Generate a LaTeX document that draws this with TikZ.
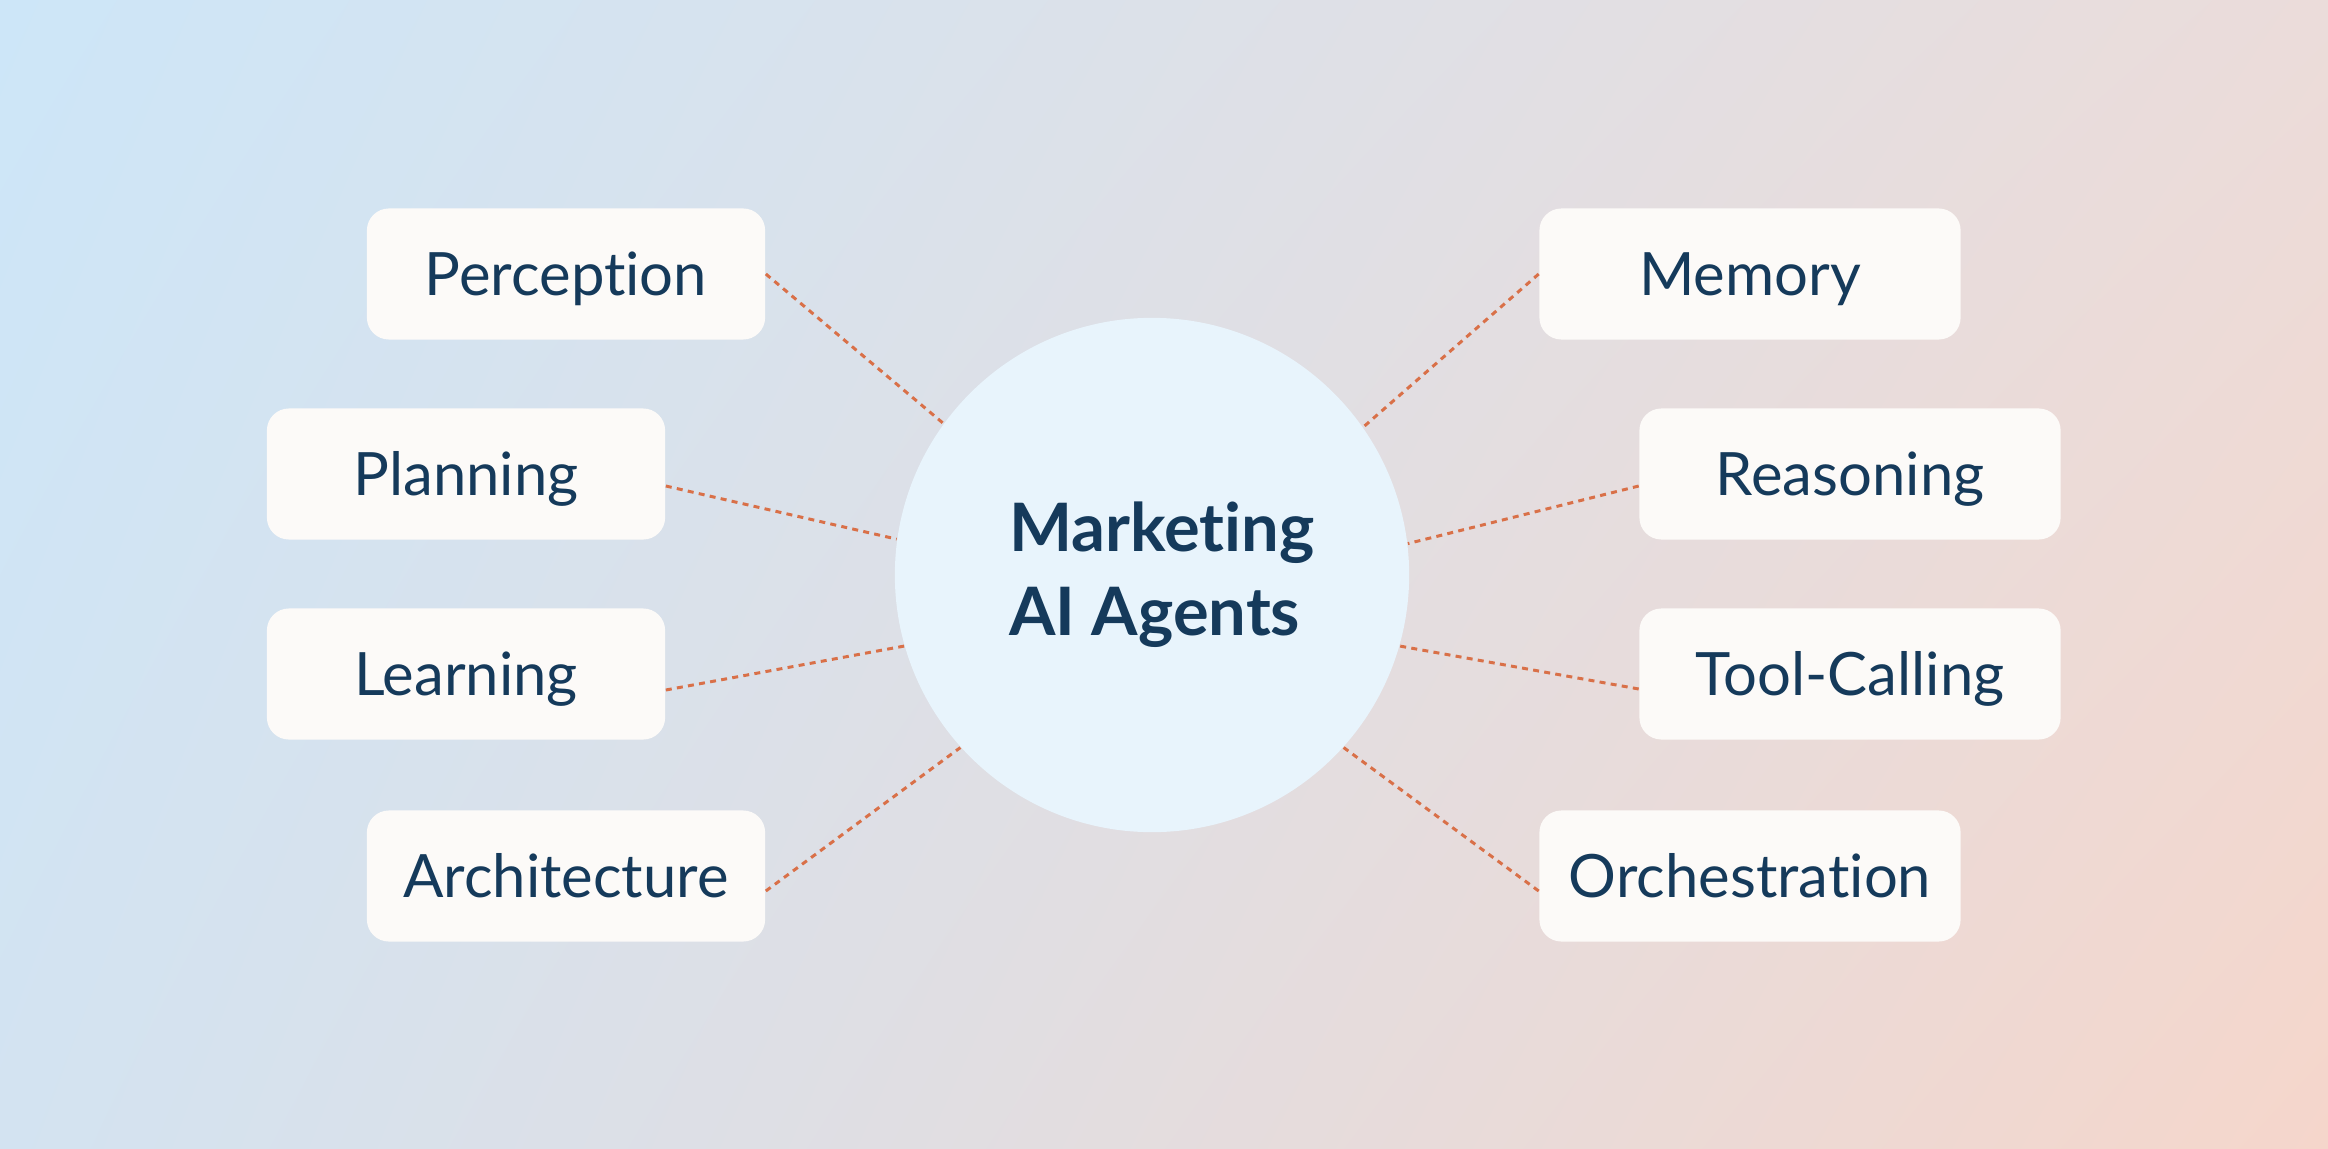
\documentclass[tikz,border=0pt]{standalone}
\usepackage{fontspec}
\setmainfont{Lato}[Ligatures={NoCommon,NoRequired,NoDiscretionary}]
\usetikzlibrary{shadings}

\definecolor{bgtl}{RGB}{205,230,248}
\definecolor{bgtr}{RGB}{235,220,218}
\definecolor{bgbl}{RGB}{211,227,241}
\definecolor{bgbr}{RGB}{245,214,203}
\definecolor{boxwhite}{RGB}{252,250,248}
\definecolor{hubblue}{RGB}{232,244,252}
\definecolor{navy}{RGB}{21,58,91}
\definecolor{linkorange}{RGB}{217,112,72}

\begin{document}
\begin{tikzpicture}[x=0.01cm, y=-0.01cm,
        item/.style={fill=boxwhite, rounded corners=0.22cm, minimum height=1.31cm,
            inner sep=0pt, text=navy, font=\fontsize{17}{20}\selectfont,
            text height=12pt, text depth=0pt},
        hub/.style={circle, fill=hubblue, minimum size=5.14cm, inner sep=0pt},
        title/.style={text=navy, align=left, font=\bfseries\fontsize{19}{24}\selectfont},
        link/.style={draw=linkorange, line width=0.85pt, dash pattern=on 1.7pt off 1.5pt}]

    % Фон
    \useasboundingbox (0,0) rectangle (2328,1149);
    \shade[upper left=bgtl, upper right=bgtr, lower left=bgbl, lower right=bgbr]
        (0,0) rectangle (2328,1149);

    % Центр
    \node[hub] (hub) at (1152,575) {};
    \node[title] (hubtitle) at (1162,575) {Marketing\\AI Agents};

    % Левые блоки
    \foreach \name/\x/\y/\txt in {
        perc/566/274/Perception, plan/466/474/Planning,
        lear/466/674/Learning, arch/566/876/Architecture}
    {
        \node[item, minimum width=3.98cm] (\name) at (\x,\y) {\txt};
    }

    % Правые блоки
    \foreach \name/\x/\y/\txt in {
        memo/1750/274/Memory, reas/1850/474/Reasoning,
        tool/1850/674/Tool-Calling, orch/1750/876/Orchestration}
    {
        \node[item, minimum width=4.21cm] (\name) at (\x,\y) {\txt};
    }

    % Связи
    \foreach \name/\ang/\dy in {perc/144.6/0, plan/172.8/12, lear/196.6/16, arch/222.4/15}
        \draw[link] ([yshift=-\dy*0.01cm]\name.east) -- (hub.\ang);
    \foreach \name/\ang/\dy in {memo/35.9/0, reas/7.2/12, tool/-16.7/15, orch/-42.2/15}
        \draw[link] ([yshift=-\dy*0.01cm]\name.west) -- (hub.\ang);
\end{tikzpicture}
\end{document}
